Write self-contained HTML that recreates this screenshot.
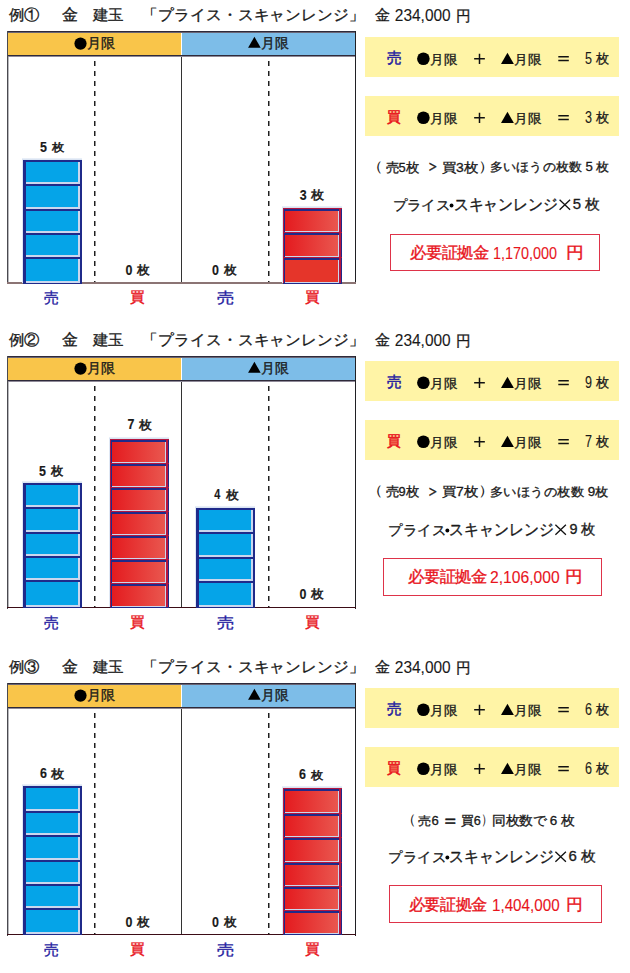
<!DOCTYPE html><html><head><meta charset="utf-8"><style>
*{margin:0;padding:0;box-sizing:border-box}
html,body{width:630px;height:973px;background:#fff;overflow:hidden}
body{position:relative;font-family:"Liberation Sans",sans-serif}
.a{position:absolute}
.t{position:absolute;white-space:nowrap;line-height:1;transform-origin:0 0;-webkit-text-stroke:0.35px currentColor}
.b{font-weight:bold;-webkit-text-stroke:0.15px currentColor}
.asc{-webkit-text-stroke:0.1px currentColor}
.dash{position:absolute;width:2px;background:linear-gradient(to right,transparent 50%,rgba(255,255,255,.5) 50%),repeating-linear-gradient(to bottom,#1e1e1e 0 5px,transparent 5px 10px)}
.blk{position:absolute;width:59px}
.bb{background:#1f2a8a}
.bb i{position:absolute;left:3px;top:2px;width:54px;bottom:0;background:#05a4e8;border-right:2px solid #cbd7ee;border-bottom:2px solid #cbd7ee}
.rb{background:#1f2a8a;border-left:1px solid #b5163f;border-top:1px solid #b5163f}
.rb i{position:absolute;left:1px;top:2px;width:54px;bottom:0;background:linear-gradient(to right,#e41b1f,#e9574f);border-right:1px solid #cbd7ee;border-bottom:1px solid #cbd7ee}
.rb i:after{content:"";position:absolute;right:-3px;top:-2px;bottom:-1px;width:2px;background:#b5163f}
.yb{position:absolute;left:365px;width:254px;height:40px;background:#fff4a6}
.box{position:absolute;border:1px solid #de3349}
</style></head><body>
<div class="a" style="left:7px;top:31px;width:349px;height:1px;background:#2e2a3a;"></div>
<div class="a" style="left:7px;top:32px;width:349px;height:1px;background:#6a6575;"></div>
<div class="a" style="left:8px;top:33px;width:173px;height:22px;background:#f9c54a;"></div>
<div class="a" style="left:182px;top:33px;width:173px;height:22px;background:#7dbde8;"></div>
<div class="a" style="left:7px;top:55px;width:349px;height:1px;background:#2e2a3a;"></div>
<div class="a" style="left:7px;top:56px;width:349px;height:1px;background:#8f8a98;"></div>
<div class="a" style="left:7px;top:31px;width:1px;height:253px;background:#4a4a50;"></div>
<div class="a" style="left:8px;top:57px;width:1px;height:225px;background:#b8b8bc;"></div>
<div class="a" style="left:355px;top:31px;width:1px;height:253px;background:#202024;"></div>
<div class="a" style="left:181px;top:57px;width:1px;height:225px;background:#333;"></div>
<div class="dash" style="left:94px;top:61px;height:222px"></div>
<div class="dash" style="left:268px;top:61px;height:222px"></div>
<div class="a" style="left:7px;top:282px;width:349px;height:2px;background:#8b7474;"></div>
<svg class="a" style="left:74px;top:37px" width="14" height="14"><circle cx="6.500000000000005" cy="6.6" r="6.1" fill="#000"/></svg>
<svg class="a" style="left:248px;top:36px" width="15" height="14"><path d="M6.40 0.80L12.70 11.80L0.10 11.80Z" fill="#000"/></svg>
<div class="blk bb" style="left:23px;top:160px;height:24px"><i></i></div>
<div class="blk bb" style="left:23px;top:184px;height:25px"><i></i></div>
<div class="blk bb" style="left:23px;top:209px;height:24px"><i></i></div>
<div class="blk bb" style="left:23px;top:233px;height:24px"><i></i></div>
<div class="blk bb" style="left:23px;top:257px;height:26px"><i></i></div>
<div class="a" style="left:22px;top:158px;width:60px;height:2px;background:linear-gradient(#eef3fa,#d3dff0)"></div>
<div class="a" style="left:22px;top:160px;width:1px;height:123px;background:#dfe8f5"></div>
<div class="a" style="left:23px;top:283px;width:59px;height:1px;background:#1f2a8a"></div>
<div class="blk rb" style="left:283px;top:208px;height:24px"><i></i></div>
<div class="blk rb" style="left:283px;top:232px;height:25px"><i></i></div>
<div class="blk rb" style="left:283px;top:257px;height:26px"><i style="background:#e5352a"></i></div>
<div class="a" style="left:282px;top:206px;width:60px;height:2px;background:linear-gradient(#eef3fa,#d3dff0)"></div>
<div class="a" style="left:282px;top:208px;width:1px;height:75px;background:#dfe8f5"></div>
<div class="a" style="left:283px;top:283px;width:59px;height:1px;background:#1f2a8a"></div>
<div class="yb" style="top:37px"></div>
<svg class="a" style="left:417px;top:52px" width="14" height="14"><circle cx="6.400000000000023" cy="6.699999999999998" r="6.3" fill="#000"/></svg>
<svg class="a" style="left:501px;top:52px" width="15" height="14"><path d="M6.45 0.70L12.90 11.90L0.00 11.90Z" fill="#000"/></svg>
<svg class="a" style="left:473px;top:52px" width="14" height="14"><path d="M1.15 6.80H11.85M6.50 1.65V11.95" stroke="#111" stroke-width="1.5"/></svg>
<svg class="a" style="left:557px;top:54px" width="14" height="8"><path d="M1.30 2.80H11.80M1.30 6.50H11.80" stroke="#111" stroke-width="1.4"/></svg>
<div class="yb" style="top:96px"></div>
<svg class="a" style="left:417px;top:111px" width="14" height="14"><circle cx="6.400000000000023" cy="6.7000000000000055" r="6.3" fill="#000"/></svg>
<svg class="a" style="left:501px;top:111px" width="15" height="14"><path d="M6.45 0.70L12.90 11.90L0.00 11.90Z" fill="#000"/></svg>
<svg class="a" style="left:473px;top:111px" width="14" height="14"><path d="M1.15 6.80H11.85M6.50 1.65V11.95" stroke="#111" stroke-width="1.5"/></svg>
<svg class="a" style="left:557px;top:113px" width="14" height="8"><path d="M1.30 2.80H11.80M1.30 6.50H11.80" stroke="#111" stroke-width="1.4"/></svg>
<svg class="a" style="left:558px;top:198px" width="14" height="14"><path d="M1.60 1.80L12.10 11.80M12.10 1.80L1.60 11.80" stroke="#111" stroke-width="1.3"/></svg>
<svg class="a" style="left:449px;top:203px" width="5" height="5"><circle cx="2.550000000000023" cy="2.45" r="1.95" fill="#000"/></svg>
<div class="box" style="left:390px;top:234px;width:210px;height:37px"></div>
<div class="a" style="left:7px;top:356px;width:349px;height:1px;background:#2e2a3a;"></div>
<div class="a" style="left:7px;top:357px;width:349px;height:1px;background:#6a6575;"></div>
<div class="a" style="left:8px;top:358px;width:173px;height:22px;background:#f9c54a;"></div>
<div class="a" style="left:182px;top:358px;width:173px;height:22px;background:#7dbde8;"></div>
<div class="a" style="left:7px;top:380px;width:349px;height:1px;background:#2e2a3a;"></div>
<div class="a" style="left:7px;top:381px;width:349px;height:1px;background:#8f8a98;"></div>
<div class="a" style="left:7px;top:356px;width:1px;height:253px;background:#4a4a50;"></div>
<div class="a" style="left:8px;top:382px;width:1px;height:225px;background:#b8b8bc;"></div>
<div class="a" style="left:355px;top:356px;width:1px;height:253px;background:#202024;"></div>
<div class="a" style="left:181px;top:382px;width:1px;height:225px;background:#333;"></div>
<div class="dash" style="left:94px;top:386px;height:222px"></div>
<div class="dash" style="left:268px;top:386px;height:222px"></div>
<div class="a" style="left:7px;top:607px;width:349px;height:1px;background:#3b0c16;"></div>
<svg class="a" style="left:74px;top:362px" width="14" height="14"><circle cx="6.500000000000005" cy="6.6" r="6.1" fill="#000"/></svg>
<svg class="a" style="left:248px;top:361px" width="15" height="14"><path d="M6.40 0.80L12.70 11.80L0.10 11.80Z" fill="#000"/></svg>
<div class="blk bb" style="left:23px;top:483px;height:24px"><i></i></div>
<div class="blk bb" style="left:23px;top:507px;height:25px"><i></i></div>
<div class="blk bb" style="left:23px;top:532px;height:24px"><i></i></div>
<div class="blk bb" style="left:23px;top:556px;height:24px"><i></i></div>
<div class="blk bb" style="left:23px;top:580px;height:27px"><i></i></div>
<div class="a" style="left:22px;top:481px;width:60px;height:2px;background:linear-gradient(#eef3fa,#d3dff0)"></div>
<div class="a" style="left:22px;top:483px;width:1px;height:124px;background:#dfe8f5"></div>
<div class="a" style="left:23px;top:607px;width:59px;height:1px;background:#1f2a8a"></div>
<div class="blk rb" style="left:110px;top:439px;height:24px"><i></i></div>
<div class="blk rb" style="left:110px;top:463px;height:24px"><i></i></div>
<div class="blk rb" style="left:110px;top:487px;height:24px"><i></i></div>
<div class="blk rb" style="left:110px;top:511px;height:24px"><i></i></div>
<div class="blk rb" style="left:110px;top:535px;height:24px"><i></i></div>
<div class="blk rb" style="left:110px;top:559px;height:24px"><i></i></div>
<div class="blk rb" style="left:110px;top:583px;height:24px"><i></i></div>
<div class="a" style="left:109px;top:437px;width:60px;height:2px;background:linear-gradient(#eef3fa,#d3dff0)"></div>
<div class="a" style="left:109px;top:439px;width:1px;height:168px;background:#dfe8f5"></div>
<div class="a" style="left:110px;top:607px;width:59px;height:1px;background:#1f2a8a"></div>
<div class="blk bb" style="left:196px;top:508px;height:24px"><i></i></div>
<div class="blk bb" style="left:196px;top:532px;height:25px"><i></i></div>
<div class="blk bb" style="left:196px;top:557px;height:24px"><i></i></div>
<div class="blk bb" style="left:196px;top:581px;height:26px"><i></i></div>
<div class="a" style="left:195px;top:506px;width:60px;height:2px;background:linear-gradient(#eef3fa,#d3dff0)"></div>
<div class="a" style="left:195px;top:508px;width:1px;height:99px;background:#dfe8f5"></div>
<div class="a" style="left:196px;top:607px;width:59px;height:1px;background:#1f2a8a"></div>
<div class="yb" style="top:361px"></div>
<svg class="a" style="left:417px;top:376px" width="14" height="14"><circle cx="6.400000000000023" cy="6.699999999999977" r="6.3" fill="#000"/></svg>
<svg class="a" style="left:501px;top:376px" width="15" height="14"><path d="M6.45 0.70L12.90 11.90L0.00 11.90Z" fill="#000"/></svg>
<svg class="a" style="left:473px;top:376px" width="14" height="14"><path d="M1.15 6.80H11.85M6.50 1.65V11.95" stroke="#111" stroke-width="1.5"/></svg>
<svg class="a" style="left:557px;top:378px" width="14" height="8"><path d="M1.30 2.80H11.80M1.30 6.50H11.80" stroke="#111" stroke-width="1.4"/></svg>
<div class="yb" style="top:420px"></div>
<svg class="a" style="left:417px;top:435px" width="14" height="14"><circle cx="6.400000000000023" cy="6.699999999999977" r="6.3" fill="#000"/></svg>
<svg class="a" style="left:501px;top:435px" width="15" height="14"><path d="M6.45 0.70L12.90 11.90L0.00 11.90Z" fill="#000"/></svg>
<svg class="a" style="left:473px;top:435px" width="14" height="14"><path d="M1.15 6.80H11.85M6.50 1.65V11.95" stroke="#111" stroke-width="1.5"/></svg>
<svg class="a" style="left:557px;top:437px" width="14" height="8"><path d="M1.30 2.80H11.80M1.30 6.50H11.80" stroke="#111" stroke-width="1.4"/></svg>
<svg class="a" style="left:554px;top:523px" width="14" height="14"><path d="M1.40 1.80L11.90 11.80M11.90 1.80L1.40 11.80" stroke="#111" stroke-width="1.3"/></svg>
<svg class="a" style="left:445px;top:528px" width="5" height="5"><circle cx="2.3500000000000343" cy="2.45" r="1.95" fill="#000"/></svg>
<div class="box" style="left:383px;top:558px;width:219px;height:38px"></div>
<div class="a" style="left:7px;top:683px;width:349px;height:1px;background:#2e2a3a;"></div>
<div class="a" style="left:7px;top:684px;width:349px;height:1px;background:#6a6575;"></div>
<div class="a" style="left:8px;top:685px;width:173px;height:22px;background:#f9c54a;"></div>
<div class="a" style="left:182px;top:685px;width:173px;height:22px;background:#7dbde8;"></div>
<div class="a" style="left:7px;top:707px;width:349px;height:1px;background:#2e2a3a;"></div>
<div class="a" style="left:7px;top:708px;width:349px;height:1px;background:#8f8a98;"></div>
<div class="a" style="left:7px;top:683px;width:1px;height:253px;background:#4a4a50;"></div>
<div class="a" style="left:8px;top:709px;width:1px;height:225px;background:#b8b8bc;"></div>
<div class="a" style="left:355px;top:683px;width:1px;height:253px;background:#202024;"></div>
<div class="a" style="left:181px;top:709px;width:1px;height:225px;background:#333;"></div>
<div class="dash" style="left:94px;top:713px;height:222px"></div>
<div class="dash" style="left:268px;top:713px;height:222px"></div>
<div class="a" style="left:7px;top:934px;width:349px;height:1px;background:#3b0c16;"></div>
<svg class="a" style="left:74px;top:689px" width="14" height="14"><circle cx="6.500000000000005" cy="6.6" r="6.1" fill="#000"/></svg>
<svg class="a" style="left:248px;top:688px" width="15" height="14"><path d="M6.40 0.80L12.70 11.80L0.10 11.80Z" fill="#000"/></svg>
<div class="blk bb" style="left:23px;top:786px;height:25px"><i></i></div>
<div class="blk bb" style="left:23px;top:811px;height:24px"><i></i></div>
<div class="blk bb" style="left:23px;top:835px;height:25px"><i></i></div>
<div class="blk bb" style="left:23px;top:860px;height:24px"><i></i></div>
<div class="blk bb" style="left:23px;top:884px;height:24px"><i></i></div>
<div class="blk bb" style="left:23px;top:908px;height:26px"><i></i></div>
<div class="a" style="left:22px;top:784px;width:60px;height:2px;background:linear-gradient(#eef3fa,#d3dff0)"></div>
<div class="a" style="left:22px;top:786px;width:1px;height:148px;background:#dfe8f5"></div>
<div class="a" style="left:23px;top:934px;width:59px;height:1px;background:#1f2a8a"></div>
<div class="blk rb" style="left:283px;top:788px;height:25px"><i></i></div>
<div class="blk rb" style="left:283px;top:813px;height:24px"><i></i></div>
<div class="blk rb" style="left:283px;top:837px;height:25px"><i></i></div>
<div class="blk rb" style="left:283px;top:862px;height:24px"><i></i></div>
<div class="blk rb" style="left:283px;top:886px;height:24px"><i></i></div>
<div class="blk rb" style="left:283px;top:910px;height:24px"><i></i></div>
<div class="a" style="left:282px;top:786px;width:60px;height:2px;background:linear-gradient(#eef3fa,#d3dff0)"></div>
<div class="a" style="left:282px;top:788px;width:1px;height:146px;background:#dfe8f5"></div>
<div class="a" style="left:283px;top:934px;width:59px;height:1px;background:#1f2a8a"></div>
<div class="yb" style="top:688px"></div>
<svg class="a" style="left:417px;top:703px" width="14" height="14"><circle cx="6.400000000000023" cy="6.699999999999977" r="6.3" fill="#000"/></svg>
<svg class="a" style="left:501px;top:703px" width="15" height="14"><path d="M6.45 0.70L12.90 11.90L0.00 11.90Z" fill="#000"/></svg>
<svg class="a" style="left:473px;top:703px" width="14" height="14"><path d="M1.15 6.80H11.85M6.50 1.65V11.95" stroke="#111" stroke-width="1.5"/></svg>
<svg class="a" style="left:557px;top:705px" width="14" height="8"><path d="M1.30 2.80H11.80M1.30 6.50H11.80" stroke="#111" stroke-width="1.4"/></svg>
<div class="yb" style="top:747px"></div>
<svg class="a" style="left:417px;top:762px" width="14" height="14"><circle cx="6.400000000000023" cy="6.699999999999977" r="6.3" fill="#000"/></svg>
<svg class="a" style="left:501px;top:762px" width="15" height="14"><path d="M6.45 0.70L12.90 11.90L0.00 11.90Z" fill="#000"/></svg>
<svg class="a" style="left:473px;top:762px" width="14" height="14"><path d="M1.15 6.80H11.85M6.50 1.65V11.95" stroke="#111" stroke-width="1.5"/></svg>
<svg class="a" style="left:557px;top:764px" width="14" height="8"><path d="M1.30 2.80H11.80M1.30 6.50H11.80" stroke="#111" stroke-width="1.4"/></svg>
<svg class="a" style="left:554px;top:850px" width="14" height="14"><path d="M1.40 1.80L11.90 11.80M11.90 1.80L1.40 11.80" stroke="#111" stroke-width="1.3"/></svg>
<svg class="a" style="left:445px;top:855px" width="5" height="5"><circle cx="2.3500000000000343" cy="2.45" r="1.95" fill="#000"/></svg>
<div class="box" style="left:389px;top:885px;width:213px;height:38px"></div>
<div class="t" style="left:0;top:0;font-size:16px;color:#1a1a1a;transform:translate(8.90px,7.95px) scale(0.972,0.950)">例①</div>
<div class="t" style="left:0;top:0;font-size:16px;color:#1a1a1a;transform:translate(61.50px,7.00px) scale(0.967,0.973)">金</div>
<div class="t" style="left:0;top:0;font-size:16px;color:#1a1a1a;transform:translate(93.10px,7.90px) scale(0.953,0.927)">建玉</div>
<div class="t" style="left:0;top:0;font-size:16px;color:#1a1a1a;transform:translate(142.47px,7.66px) scale(0.992,0.956)">「プライス・スキャンレンジ」</div>
<div class="t" style="left:0;top:0;font-size:16px;color:#1a1a1a;transform:translate(374.90px,7.70px) scale(0.953,0.953)">金</div>
<div class="t asc" style="left:0;top:0;font-size:16px;color:#1a1a1a;transform:translate(394.80px,7.68px) scale(0.967,1.021)">234,000</div>
<div class="t" style="left:0;top:0;font-size:16px;color:#1a1a1a;transform:translate(455.97px,8.30px) scale(0.929,0.953)">円</div>
<div class="t" style="left:0;top:0;font-size:14px;color:#1a1a1a;transform:translate(87.31px,36.22px) scale(0.989,0.985)">月限</div>
<div class="t" style="left:0;top:0;font-size:14px;color:#1a1a1a;transform:translate(261.03px,36.22px) scale(0.974,0.985)">月限</div>
<div class="t b" style="left:0;top:0;font-size:13px;color:#1a1a1a;transform:translate(40.00px,140.29px) scale(0.957,1.056)">5</div>
<div class="t" style="left:0;top:0;font-size:13px;color:#1a1a1a;-webkit-text-stroke:0.55px currentColor;transform:translate(51.60px,141.70px) scale(0.977,0.877)">枚</div>
<div class="t b" style="left:0;top:0;font-size:13px;color:#1a1a1a;transform:translate(125.50px,262.46px) scale(0.957,1.122)">0</div>
<div class="t" style="left:0;top:0;font-size:13px;color:#1a1a1a;-webkit-text-stroke:0.55px currentColor;transform:translate(137.30px,264.00px) scale(0.977,0.923)">枚</div>
<div class="t b" style="left:0;top:0;font-size:13px;color:#1a1a1a;transform:translate(212.00px,262.46px) scale(0.957,1.122)">0</div>
<div class="t" style="left:0;top:0;font-size:13px;color:#1a1a1a;-webkit-text-stroke:0.55px currentColor;transform:translate(224.00px,264.00px) scale(0.977,0.923)">枚</div>
<div class="t b" style="left:0;top:0;font-size:13px;color:#1a1a1a;transform:translate(299.80px,187.92px) scale(0.957,1.089)">3</div>
<div class="t" style="left:0;top:0;font-size:13px;color:#1a1a1a;-webkit-text-stroke:0.55px currentColor;transform:translate(311.20px,189.40px) scale(0.977,0.900)">枚</div>
<div class="t" style="left:0;top:0;font-size:16px;color:#2420a0;-webkit-text-stroke:0.4px currentColor;transform:translate(44.00px,290.00px) scale(0.953,0.967)">売</div>
<div class="t" style="left:0;top:0;font-size:16px;color:#e8141c;-webkit-text-stroke:0.4px currentColor;transform:translate(130.00px,289.03px) scale(0.938,0.967)">買</div>
<div class="t" style="left:0;top:0;font-size:16px;color:#2420a0;-webkit-text-stroke:0.4px currentColor;transform:translate(216.70px,290.00px) scale(1.107,0.967)">売</div>
<div class="t" style="left:0;top:0;font-size:16px;color:#e8141c;-webkit-text-stroke:0.4px currentColor;transform:translate(305.00px,289.03px) scale(0.938,0.967)">買</div>
<div class="t" style="left:0;top:0;font-size:16px;color:#2420a0;-webkit-text-stroke:0.55px currentColor;transform:translate(386.50px,51.00px) scale(0.933,0.960)">売</div>
<div class="t" style="left:0;top:0;font-size:15px;color:#1a1a1a;transform:translate(430.08px,52.51px) scale(0.921,0.886)">月限</div>
<div class="t" style="left:0;top:0;font-size:15px;color:#1a1a1a;transform:translate(513.88px,52.51px) scale(0.924,0.886)">月限</div>
<div class="t asc" style="left:0;top:0;font-size:15px;color:#1a1a1a;transform:translate(585.00px,50.06px) scale(0.838,1.080)">5</div>
<div class="t" style="left:0;top:0;font-size:15px;color:#1a1a1a;transform:translate(596.30px,51.51px) scale(0.893,0.886)">枚</div>
<div class="t" style="left:0;top:0;font-size:16px;color:#e8141c;-webkit-text-stroke:0.55px currentColor;transform:translate(386.50px,109.04px) scale(0.875,0.960)">買</div>
<div class="t" style="left:0;top:0;font-size:15px;color:#1a1a1a;transform:translate(430.08px,111.51px) scale(0.921,0.886)">月限</div>
<div class="t" style="left:0;top:0;font-size:15px;color:#1a1a1a;transform:translate(513.88px,111.51px) scale(0.924,0.886)">月限</div>
<div class="t asc" style="left:0;top:0;font-size:15px;color:#1a1a1a;transform:translate(585.00px,109.06px) scale(0.838,1.080)">3</div>
<div class="t" style="left:0;top:0;font-size:15px;color:#1a1a1a;transform:translate(596.30px,110.51px) scale(0.893,0.886)">枚</div>
<div class="t" style="left:0;top:0;font-size:14px;color:#1a1a1a;-webkit-text-stroke:0;transform:translate(366.30px,158.65px) scale(1.267,1.023)">（</div>
<div class="t" style="left:0;top:0;font-size:14px;color:#1a1a1a;transform:translate(385.70px,161.00px) scale(0.917,0.893)">売5枚</div>
<div class="t" style="left:0;top:0;font-size:14px;color:#1a1a1a;transform:translate(426.07px,157.08px) scale(0.975,1.283)">＞</div>
<div class="t" style="left:0;top:0;font-size:14px;color:#1a1a1a;transform:translate(442.00px,161.00px) scale(0.992,0.893)">買3枚</div>
<div class="t" style="left:0;top:0;font-size:14px;color:#1a1a1a;-webkit-text-stroke:0;transform:translate(478.07px,158.65px) scale(1.267,1.023)">）</div>
<div class="t" style="left:0;top:0;font-size:14px;color:#1a1a1a;transform:translate(490.06px,161.00px) scale(0.937,0.867)">多いほうの枚数 5 枚</div>
<div class="t" style="left:0;top:0;font-size:16px;color:#1a1a1a;transform:translate(392.60px,198.48px) scale(0.902,0.881)">プライス</div>
<div class="t" style="left:0;top:0;font-size:16px;color:#1a1a1a;transform:translate(453.67px,196.59px) scale(0.931,1.007)">スキャンレンジ</div>
<div class="t" style="left:0;top:0;font-size:16px;color:#1a1a1a;transform:translate(572.66px,197.60px) scale(0.936,0.881)">5 枚</div>
<div class="t" style="left:0;top:0;font-size:16px;color:#e8141c;transform:translate(409.80px,245.10px) scale(0.991,0.973)">必要証拠金</div>
<div class="t asc" style="left:0;top:0;font-size:16px;color:#e8141c;transform:translate(492.90px,244.96px) scale(0.899,1.043)">1,170,000</div>
<div class="t" style="left:0;top:0;font-size:16px;color:#e8141c;transform:translate(565.98px,244.50px) scale(1.115,1.000)">円</div>
<div class="t" style="left:0;top:0;font-size:16px;color:#1a1a1a;transform:translate(8.90px,332.95px) scale(0.972,0.950)">例②</div>
<div class="t" style="left:0;top:0;font-size:16px;color:#1a1a1a;transform:translate(61.50px,332.00px) scale(0.967,0.973)">金</div>
<div class="t" style="left:0;top:0;font-size:16px;color:#1a1a1a;transform:translate(93.10px,332.90px) scale(0.953,0.927)">建玉</div>
<div class="t" style="left:0;top:0;font-size:16px;color:#1a1a1a;transform:translate(142.47px,332.66px) scale(0.992,0.956)">「プライス・スキャンレンジ」</div>
<div class="t" style="left:0;top:0;font-size:16px;color:#1a1a1a;transform:translate(374.90px,332.70px) scale(0.953,0.953)">金</div>
<div class="t asc" style="left:0;top:0;font-size:16px;color:#1a1a1a;transform:translate(394.80px,332.68px) scale(0.967,1.021)">234,000</div>
<div class="t" style="left:0;top:0;font-size:16px;color:#1a1a1a;transform:translate(455.97px,333.30px) scale(0.929,0.953)">円</div>
<div class="t" style="left:0;top:0;font-size:14px;color:#1a1a1a;transform:translate(87.31px,361.22px) scale(0.989,0.985)">月限</div>
<div class="t" style="left:0;top:0;font-size:14px;color:#1a1a1a;transform:translate(261.03px,361.22px) scale(0.974,0.985)">月限</div>
<div class="t b" style="left:0;top:0;font-size:13px;color:#1a1a1a;transform:translate(39.00px,463.37px) scale(0.957,1.167)">5</div>
<div class="t" style="left:0;top:0;font-size:13px;color:#1a1a1a;-webkit-text-stroke:0.55px currentColor;transform:translate(51.10px,465.00px) scale(0.977,0.954)">枚</div>
<div class="t b" style="left:0;top:0;font-size:13px;color:#1a1a1a;transform:translate(127.60px,417.08px) scale(0.957,1.111)">7</div>
<div class="t" style="left:0;top:0;font-size:13px;color:#1a1a1a;-webkit-text-stroke:0.55px currentColor;transform:translate(139.20px,418.60px) scale(0.977,0.915)">枚</div>
<div class="t b" style="left:0;top:0;font-size:13px;color:#1a1a1a;transform:translate(214.30px,487.08px) scale(0.837,1.111)">4</div>
<div class="t" style="left:0;top:0;font-size:13px;color:#1a1a1a;-webkit-text-stroke:0.55px currentColor;transform:translate(225.90px,488.60px) scale(0.977,0.915)">枚</div>
<div class="t b" style="left:0;top:0;font-size:13px;color:#1a1a1a;transform:translate(299.50px,586.46px) scale(0.957,1.122)">0</div>
<div class="t" style="left:0;top:0;font-size:13px;color:#1a1a1a;-webkit-text-stroke:0.55px currentColor;transform:translate(311.10px,588.00px) scale(0.977,0.923)">枚</div>
<div class="t" style="left:0;top:0;font-size:16px;color:#2420a0;-webkit-text-stroke:0.4px currentColor;transform:translate(44.00px,615.00px) scale(0.953,0.967)">売</div>
<div class="t" style="left:0;top:0;font-size:16px;color:#e8141c;-webkit-text-stroke:0.4px currentColor;transform:translate(130.00px,614.03px) scale(0.938,0.967)">買</div>
<div class="t" style="left:0;top:0;font-size:16px;color:#2420a0;-webkit-text-stroke:0.4px currentColor;transform:translate(216.70px,615.00px) scale(1.107,0.967)">売</div>
<div class="t" style="left:0;top:0;font-size:16px;color:#e8141c;-webkit-text-stroke:0.4px currentColor;transform:translate(305.00px,614.03px) scale(0.938,0.967)">買</div>
<div class="t" style="left:0;top:0;font-size:16px;color:#2420a0;-webkit-text-stroke:0.55px currentColor;transform:translate(386.50px,375.00px) scale(0.933,0.960)">売</div>
<div class="t" style="left:0;top:0;font-size:15px;color:#1a1a1a;transform:translate(430.08px,376.51px) scale(0.921,0.886)">月限</div>
<div class="t" style="left:0;top:0;font-size:15px;color:#1a1a1a;transform:translate(513.88px,376.51px) scale(0.924,0.886)">月限</div>
<div class="t asc" style="left:0;top:0;font-size:15px;color:#1a1a1a;transform:translate(585.00px,374.06px) scale(0.838,1.080)">9</div>
<div class="t" style="left:0;top:0;font-size:15px;color:#1a1a1a;transform:translate(596.30px,375.51px) scale(0.893,0.886)">枚</div>
<div class="t" style="left:0;top:0;font-size:16px;color:#e8141c;-webkit-text-stroke:0.55px currentColor;transform:translate(386.50px,433.04px) scale(0.875,0.960)">買</div>
<div class="t" style="left:0;top:0;font-size:15px;color:#1a1a1a;transform:translate(430.08px,435.51px) scale(0.921,0.886)">月限</div>
<div class="t" style="left:0;top:0;font-size:15px;color:#1a1a1a;transform:translate(513.88px,435.51px) scale(0.924,0.886)">月限</div>
<div class="t asc" style="left:0;top:0;font-size:15px;color:#1a1a1a;transform:translate(585.00px,433.06px) scale(0.838,1.080)">7</div>
<div class="t" style="left:0;top:0;font-size:15px;color:#1a1a1a;transform:translate(596.30px,434.51px) scale(0.893,0.886)">枚</div>
<div class="t" style="left:0;top:0;font-size:14px;color:#1a1a1a;-webkit-text-stroke:0;transform:translate(366.30px,483.15px) scale(1.267,1.023)">（</div>
<div class="t" style="left:0;top:0;font-size:14px;color:#1a1a1a;transform:translate(385.70px,485.50px) scale(0.917,0.893)">売9枚</div>
<div class="t" style="left:0;top:0;font-size:14px;color:#1a1a1a;transform:translate(426.07px,481.58px) scale(0.975,1.283)">＞</div>
<div class="t" style="left:0;top:0;font-size:14px;color:#1a1a1a;transform:translate(442.00px,485.50px) scale(0.992,0.893)">買7枚</div>
<div class="t" style="left:0;top:0;font-size:14px;color:#1a1a1a;-webkit-text-stroke:0;transform:translate(478.07px,483.15px) scale(1.267,1.023)">）</div>
<div class="t" style="left:0;top:0;font-size:14px;color:#1a1a1a;transform:translate(490.04px,486.00px) scale(0.959,0.867)">多いほうの枚数 9枚</div>
<div class="t" style="left:0;top:0;font-size:16px;color:#1a1a1a;transform:translate(388.40px,523.48px) scale(0.902,0.881)">プライス</div>
<div class="t" style="left:0;top:0;font-size:16px;color:#1a1a1a;transform:translate(449.47px,521.59px) scale(0.931,1.007)">スキャンレンジ</div>
<div class="t" style="left:0;top:0;font-size:16px;color:#1a1a1a;transform:translate(569.40px,522.60px) scale(0.903,0.881)">9 枚</div>
<div class="t" style="left:0;top:0;font-size:16px;color:#e8141c;transform:translate(407.80px,569.70px) scale(0.992,0.973)">必要証拠金</div>
<div class="t asc" style="left:0;top:0;font-size:16px;color:#e8141c;transform:translate(490.02px,569.98px) scale(0.979,1.021)">2,106,000</div>
<div class="t" style="left:0;top:0;font-size:16px;color:#e8141c;transform:translate(565.10px,569.10px) scale(1.100,1.000)">円</div>
<div class="t" style="left:0;top:0;font-size:16px;color:#1a1a1a;transform:translate(8.90px,659.95px) scale(0.972,0.950)">例③</div>
<div class="t" style="left:0;top:0;font-size:16px;color:#1a1a1a;transform:translate(61.50px,659.00px) scale(0.967,0.973)">金</div>
<div class="t" style="left:0;top:0;font-size:16px;color:#1a1a1a;transform:translate(93.10px,659.90px) scale(0.953,0.927)">建玉</div>
<div class="t" style="left:0;top:0;font-size:16px;color:#1a1a1a;transform:translate(142.47px,659.66px) scale(0.992,0.956)">「プライス・スキャンレンジ」</div>
<div class="t" style="left:0;top:0;font-size:16px;color:#1a1a1a;transform:translate(374.90px,659.70px) scale(0.953,0.953)">金</div>
<div class="t asc" style="left:0;top:0;font-size:16px;color:#1a1a1a;transform:translate(394.80px,659.68px) scale(0.967,1.021)">234,000</div>
<div class="t" style="left:0;top:0;font-size:16px;color:#1a1a1a;transform:translate(455.97px,660.30px) scale(0.929,0.953)">円</div>
<div class="t" style="left:0;top:0;font-size:14px;color:#1a1a1a;transform:translate(87.31px,688.22px) scale(0.989,0.985)">月限</div>
<div class="t" style="left:0;top:0;font-size:14px;color:#1a1a1a;transform:translate(261.03px,688.22px) scale(0.974,0.985)">月限</div>
<div class="t b" style="left:0;top:0;font-size:13px;color:#1a1a1a;transform:translate(40.00px,766.57px) scale(0.957,1.067)">6</div>
<div class="t" style="left:0;top:0;font-size:13px;color:#1a1a1a;-webkit-text-stroke:0.55px currentColor;transform:translate(51.30px,768.00px) scale(0.977,0.885)">枚</div>
<div class="t b" style="left:0;top:0;font-size:13px;color:#1a1a1a;transform:translate(125.50px,914.46px) scale(0.957,1.122)">0</div>
<div class="t" style="left:0;top:0;font-size:13px;color:#1a1a1a;-webkit-text-stroke:0.55px currentColor;transform:translate(137.30px,916.00px) scale(0.977,0.923)">枚</div>
<div class="t b" style="left:0;top:0;font-size:13px;color:#1a1a1a;transform:translate(212.00px,914.46px) scale(0.957,1.122)">0</div>
<div class="t" style="left:0;top:0;font-size:13px;color:#1a1a1a;-webkit-text-stroke:0.55px currentColor;transform:translate(224.00px,916.00px) scale(0.977,0.923)">枚</div>
<div class="t b" style="left:0;top:0;font-size:13px;color:#1a1a1a;transform:translate(299.00px,767.49px) scale(0.957,1.056)">6</div>
<div class="t" style="left:0;top:0;font-size:13px;color:#1a1a1a;-webkit-text-stroke:0.55px currentColor;transform:translate(311.30px,768.90px) scale(0.977,0.877)">枚</div>
<div class="t" style="left:0;top:0;font-size:16px;color:#2420a0;-webkit-text-stroke:0.4px currentColor;transform:translate(44.00px,942.00px) scale(0.953,0.967)">売</div>
<div class="t" style="left:0;top:0;font-size:16px;color:#e8141c;-webkit-text-stroke:0.4px currentColor;transform:translate(130.00px,941.03px) scale(0.938,0.967)">買</div>
<div class="t" style="left:0;top:0;font-size:16px;color:#2420a0;-webkit-text-stroke:0.4px currentColor;transform:translate(216.70px,942.00px) scale(1.107,0.967)">売</div>
<div class="t" style="left:0;top:0;font-size:16px;color:#e8141c;-webkit-text-stroke:0.4px currentColor;transform:translate(305.00px,941.03px) scale(0.938,0.967)">買</div>
<div class="t" style="left:0;top:0;font-size:16px;color:#2420a0;-webkit-text-stroke:0.55px currentColor;transform:translate(386.50px,702.00px) scale(0.933,0.960)">売</div>
<div class="t" style="left:0;top:0;font-size:15px;color:#1a1a1a;transform:translate(430.08px,703.51px) scale(0.921,0.886)">月限</div>
<div class="t" style="left:0;top:0;font-size:15px;color:#1a1a1a;transform:translate(513.88px,703.51px) scale(0.924,0.886)">月限</div>
<div class="t asc" style="left:0;top:0;font-size:15px;color:#1a1a1a;transform:translate(585.00px,701.06px) scale(0.838,1.080)">6</div>
<div class="t" style="left:0;top:0;font-size:15px;color:#1a1a1a;transform:translate(596.30px,702.51px) scale(0.893,0.886)">枚</div>
<div class="t" style="left:0;top:0;font-size:16px;color:#e8141c;-webkit-text-stroke:0.55px currentColor;transform:translate(386.50px,760.04px) scale(0.875,0.960)">買</div>
<div class="t" style="left:0;top:0;font-size:15px;color:#1a1a1a;transform:translate(430.08px,762.51px) scale(0.921,0.886)">月限</div>
<div class="t" style="left:0;top:0;font-size:15px;color:#1a1a1a;transform:translate(513.88px,762.51px) scale(0.924,0.886)">月限</div>
<div class="t asc" style="left:0;top:0;font-size:15px;color:#1a1a1a;transform:translate(585.00px,760.06px) scale(0.838,1.080)">6</div>
<div class="t" style="left:0;top:0;font-size:15px;color:#1a1a1a;transform:translate(596.30px,761.51px) scale(0.893,0.886)">枚</div>
<div class="t" style="left:0;top:0;font-size:14px;color:#1a1a1a;-webkit-text-stroke:0;transform:translate(400.70px,812.35px) scale(1.067,0.977)">（</div>
<div class="t" style="left:0;top:0;font-size:14px;color:#1a1a1a;transform:translate(418.30px,814.50px) scale(0.936,0.857)">売6</div>
<div class="t" style="left:0;top:0;font-size:14px;color:#1a1a1a;transform:translate(440.50px,809.90px) scale(1.300,1.400)">＝</div>
<div class="t" style="left:0;top:0;font-size:14px;color:#1a1a1a;transform:translate(461.10px,813.58px) scale(0.905,0.923)">買6</div>
<div class="t" style="left:0;top:0;font-size:14px;color:#1a1a1a;-webkit-text-stroke:0;transform:translate(480.83px,812.35px) scale(0.833,0.977)">）</div>
<div class="t" style="left:0;top:0;font-size:14px;color:#1a1a1a;transform:translate(492.24px,814.30px) scale(0.962,0.907)">同枚数で 6 枚</div>
<div class="t" style="left:0;top:0;font-size:16px;color:#1a1a1a;transform:translate(388.40px,850.48px) scale(0.902,0.881)">プライス</div>
<div class="t" style="left:0;top:0;font-size:16px;color:#1a1a1a;transform:translate(449.47px,848.59px) scale(0.931,1.007)">スキャンレンジ</div>
<div class="t" style="left:0;top:0;font-size:16px;color:#1a1a1a;transform:translate(568.46px,849.60px) scale(0.936,0.881)">6 枚</div>
<div class="t" style="left:0;top:0;font-size:16px;color:#e8141c;transform:translate(408.60px,897.20px) scale(0.982,0.973)">必要証拠金</div>
<div class="t asc" style="left:0;top:0;font-size:16px;color:#e8141c;transform:translate(491.95px,897.48px) scale(0.951,1.021)">1,404,000</div>
<div class="t" style="left:0;top:0;font-size:16px;color:#e8141c;transform:translate(566.05px,896.60px) scale(1.054,1.000)">円</div>
</body></html>
